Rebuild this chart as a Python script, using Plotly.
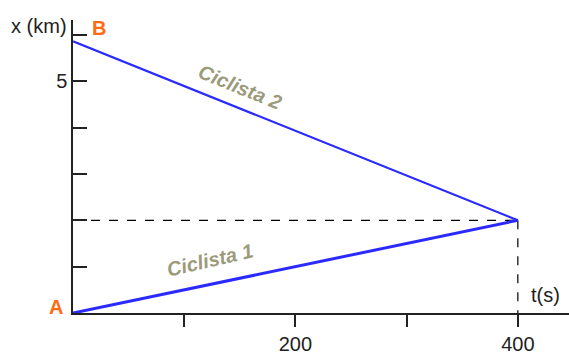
import plotly.graph_objects as go

t = [0, 400]
ciclista1 = [0, 2]
ciclista2 = [5.86, 2]
meet_t = 400
meet_x = 2
x_ticks = [100, 200, 300, 400]
x_ticktext = ["", "200", "", "400"]
y_ticks = [0, 1, 2, 3, 4, 5, 6]
y_ticktext = ["", "", "", "", "", "5", ""]

fig = go.Figure()
fig.add_trace(go.Scatter(x=[0, meet_t], y=[meet_x, meet_x], mode="lines",
                         line=dict(color="black", width=1.2, dash="dash"), cliponaxis=False))
fig.add_trace(go.Scatter(x=[meet_t, meet_t], y=[meet_x, 0], mode="lines",
                         line=dict(color="black", width=1.2, dash="dash"), cliponaxis=False))
fig.add_trace(go.Scatter(x=t, y=ciclista2, mode="lines",
                         line=dict(color="#2a2aff", width=2.2), cliponaxis=False))
fig.add_trace(go.Scatter(x=t, y=ciclista1, mode="lines",
                         line=dict(color="#2a2aff", width=3), cliponaxis=False))

FONT = "Liberation Sans, Arial"
lab = dict(family=FONT, size=20, color="#222222")
orange = dict(family=FONT, size=20, color="#ff6a13")
olive = dict(family=FONT, size=20, color="#9b9b7b")
ann = [
    dict(x=424.6, y=0.38, text="t(s)", font=lab, xref="x", yref="y"),
    dict(x=-0.069, y=0.98, text="x (km)", font=lab, xref="paper", yref="paper"),
    dict(x=23, y=6.15, text="<b>B</b>", font=orange, xref="x", yref="y"),
    dict(x=-0.034, y=0.02, text="<b>A</b>", font=orange, xref="paper", yref="paper"),
    dict(x=150, y=4.87, text="<b><i>Ciclista 2</i></b>", textangle=22, font=olive, xref="x", yref="y"),
    dict(x=123, y=1.15, text="<b><i>Ciclista 1</i></b>", textangle=-13, font=olive, xref="x", yref="y"),
]
for a in ann:
    a.update(showarrow=False, xanchor="center", yanchor="middle")

fig.update_layout(
    width=569, height=355,
    margin=dict(l=73, r=0, t=20, b=39),
    paper_bgcolor="white", plot_bgcolor="white",
    showlegend=False,
    annotations=ann,
    xaxis=dict(range=[0, 446], showline=True, linecolor="#222222", linewidth=1.5,
               showgrid=False, zeroline=False, ticks="outside", ticklen=12, tickwidth=1.5,
               tickcolor="#222222", tickvals=x_ticks, ticktext=x_ticktext,
               tickfont=lab, fixedrange=True),
    yaxis=dict(range=[0, 6.32], showline=True, linecolor="#222222", linewidth=1.5,
               showgrid=False, zeroline=False, ticks="inside", ticklen=14, tickwidth=1.5,
               tickcolor="#222222", tickvals=y_ticks, ticktext=y_ticktext,
               tickfont=lab, fixedrange=True),
)
fig.write_html("out.html", config={"displayModeBar": False},
               post_script="document.body.style.margin='0';document.body.style.overflow='hidden';")
